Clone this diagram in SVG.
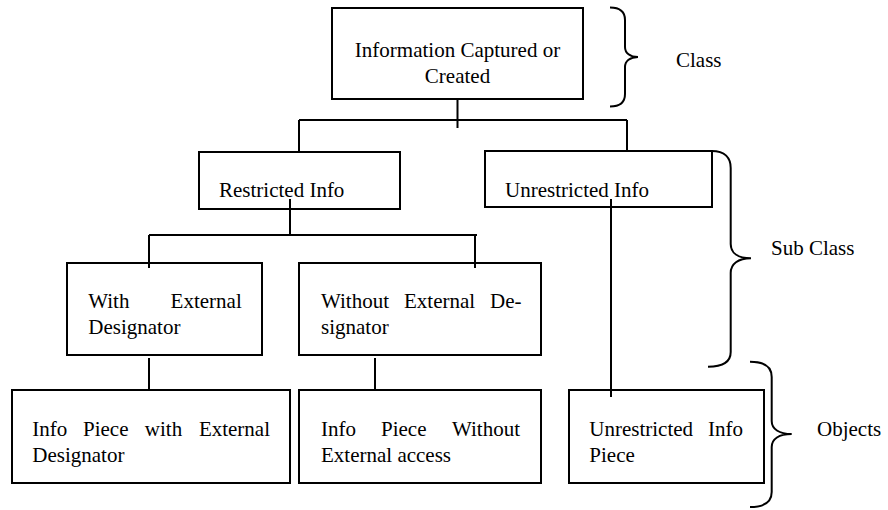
<svg xmlns="http://www.w3.org/2000/svg" width="888" height="510" viewBox="0 0 888 510">
<style>
.box{fill:none;stroke:#000;stroke-width:2}
.ln{fill:none;stroke:#000;stroke-width:2}
.br{fill:none;stroke:#000;stroke-width:2}
text{font-family:"Liberation Serif","Times New Roman",serif;font-size:21px;fill:#000}
</style>
<rect width="888" height="510" fill="#fff"/>
<g id="node-top">
<rect class="box" x="332" y="8" width="251" height="91"/>
<text x="457.5" y="57" text-anchor="middle">Information Captured or</text>
<text x="457.5" y="83" text-anchor="middle">Created</text>
</g>
<g id="node-restricted">
<rect class="box" x="199" y="152" width="201" height="57"/>
<text x="219" y="197">Restricted Info</text>
</g>
<g id="node-unrestricted">
<rect class="box" x="485" y="151" width="227" height="56"/>
<text x="505" y="197">Unrestricted Info</text>
</g>
<g id="node-with">
<rect class="box" x="67" y="263" width="195" height="92"/>
<text y="308"><tspan x="88.3">With</tspan><tspan x="170.6">External</tspan></text>
<text x="88.3" y="333.5">Designator</text>
</g>
<g id="node-without">
<rect class="box" x="299" y="263" width="242" height="92"/>
<text y="308"><tspan x="321">Without</tspan><tspan x="404">External</tspan><tspan x="490">De-</tspan></text>
<text x="321" y="333.5">signator</text>
</g>
<g id="node-piece-with">
<rect class="box" x="12" y="390" width="278" height="93"/>
<text y="435.5"><tspan x="32.3">Info</tspan><tspan x="83">Piece</tspan><tspan x="144.8">with</tspan><tspan x="198.9">External</tspan></text>
<text x="32.3" y="461.5">Designator</text>
</g>
<g id="node-piece-without">
<rect class="box" x="299" y="390" width="242" height="93"/>
<text y="435.5"><tspan x="321">Info</tspan><tspan x="381">Piece</tspan><tspan x="452">Without</tspan></text>
<text x="321" y="461.5">External access</text>
</g>
<g id="node-piece-unrestricted">
<rect class="box" x="569" y="390" width="195" height="93"/>
<text y="435.5"><tspan x="589.3">Unrestricted</tspan><tspan x="708">Info</tspan></text>
<text x="589.3" y="461.5">Piece</text>
</g>
<g id="connectors">
<path class="ln" d="M457.5,99 V128 M299,120 H627 M299,120 V152 M627,120 V151"/>
<path class="ln" d="M290,199 V235 M149,235 H477 M149,235 V268 M475,235 V268"/>
<path class="ln" d="M611,199 V397"/>
<path class="ln" d="M149,358 V390 M375,358 V390"/>
</g>
<g id="brace-class">
<path class="br" d="M610,7.5 C620,7.5 625,12 625,20 L625,47 C625,53 630,57 638,57 C630,57 625,61 625,67 L625,94 C625,102 620,106.5 610,106.5"/>
<text x="676" y="67.3">Class</text>
</g>
<g id="brace-subclass">
<path class="br" d="M711.7,151 C725,151 730.7,158 730.7,168 L730.7,244 C730.7,253 738,258.3 751,258.3 C738,258.3 730.7,264 730.7,273 L730.7,352 C730.7,362 722,366.7 708,366.7"/>
<text x="771" y="255">Sub Class</text>
</g>
<g id="brace-objects">
<path class="br" d="M750,361.7 C765,361.7 771.7,367 771.7,377 L771.7,421 C771.7,429 779,434 791.7,434 C779,434 771.7,439 771.7,447 L771.7,492 C771.7,502 765,507 750,507"/>
<text x="817" y="435.5">Objects</text>
</g>
</svg>
